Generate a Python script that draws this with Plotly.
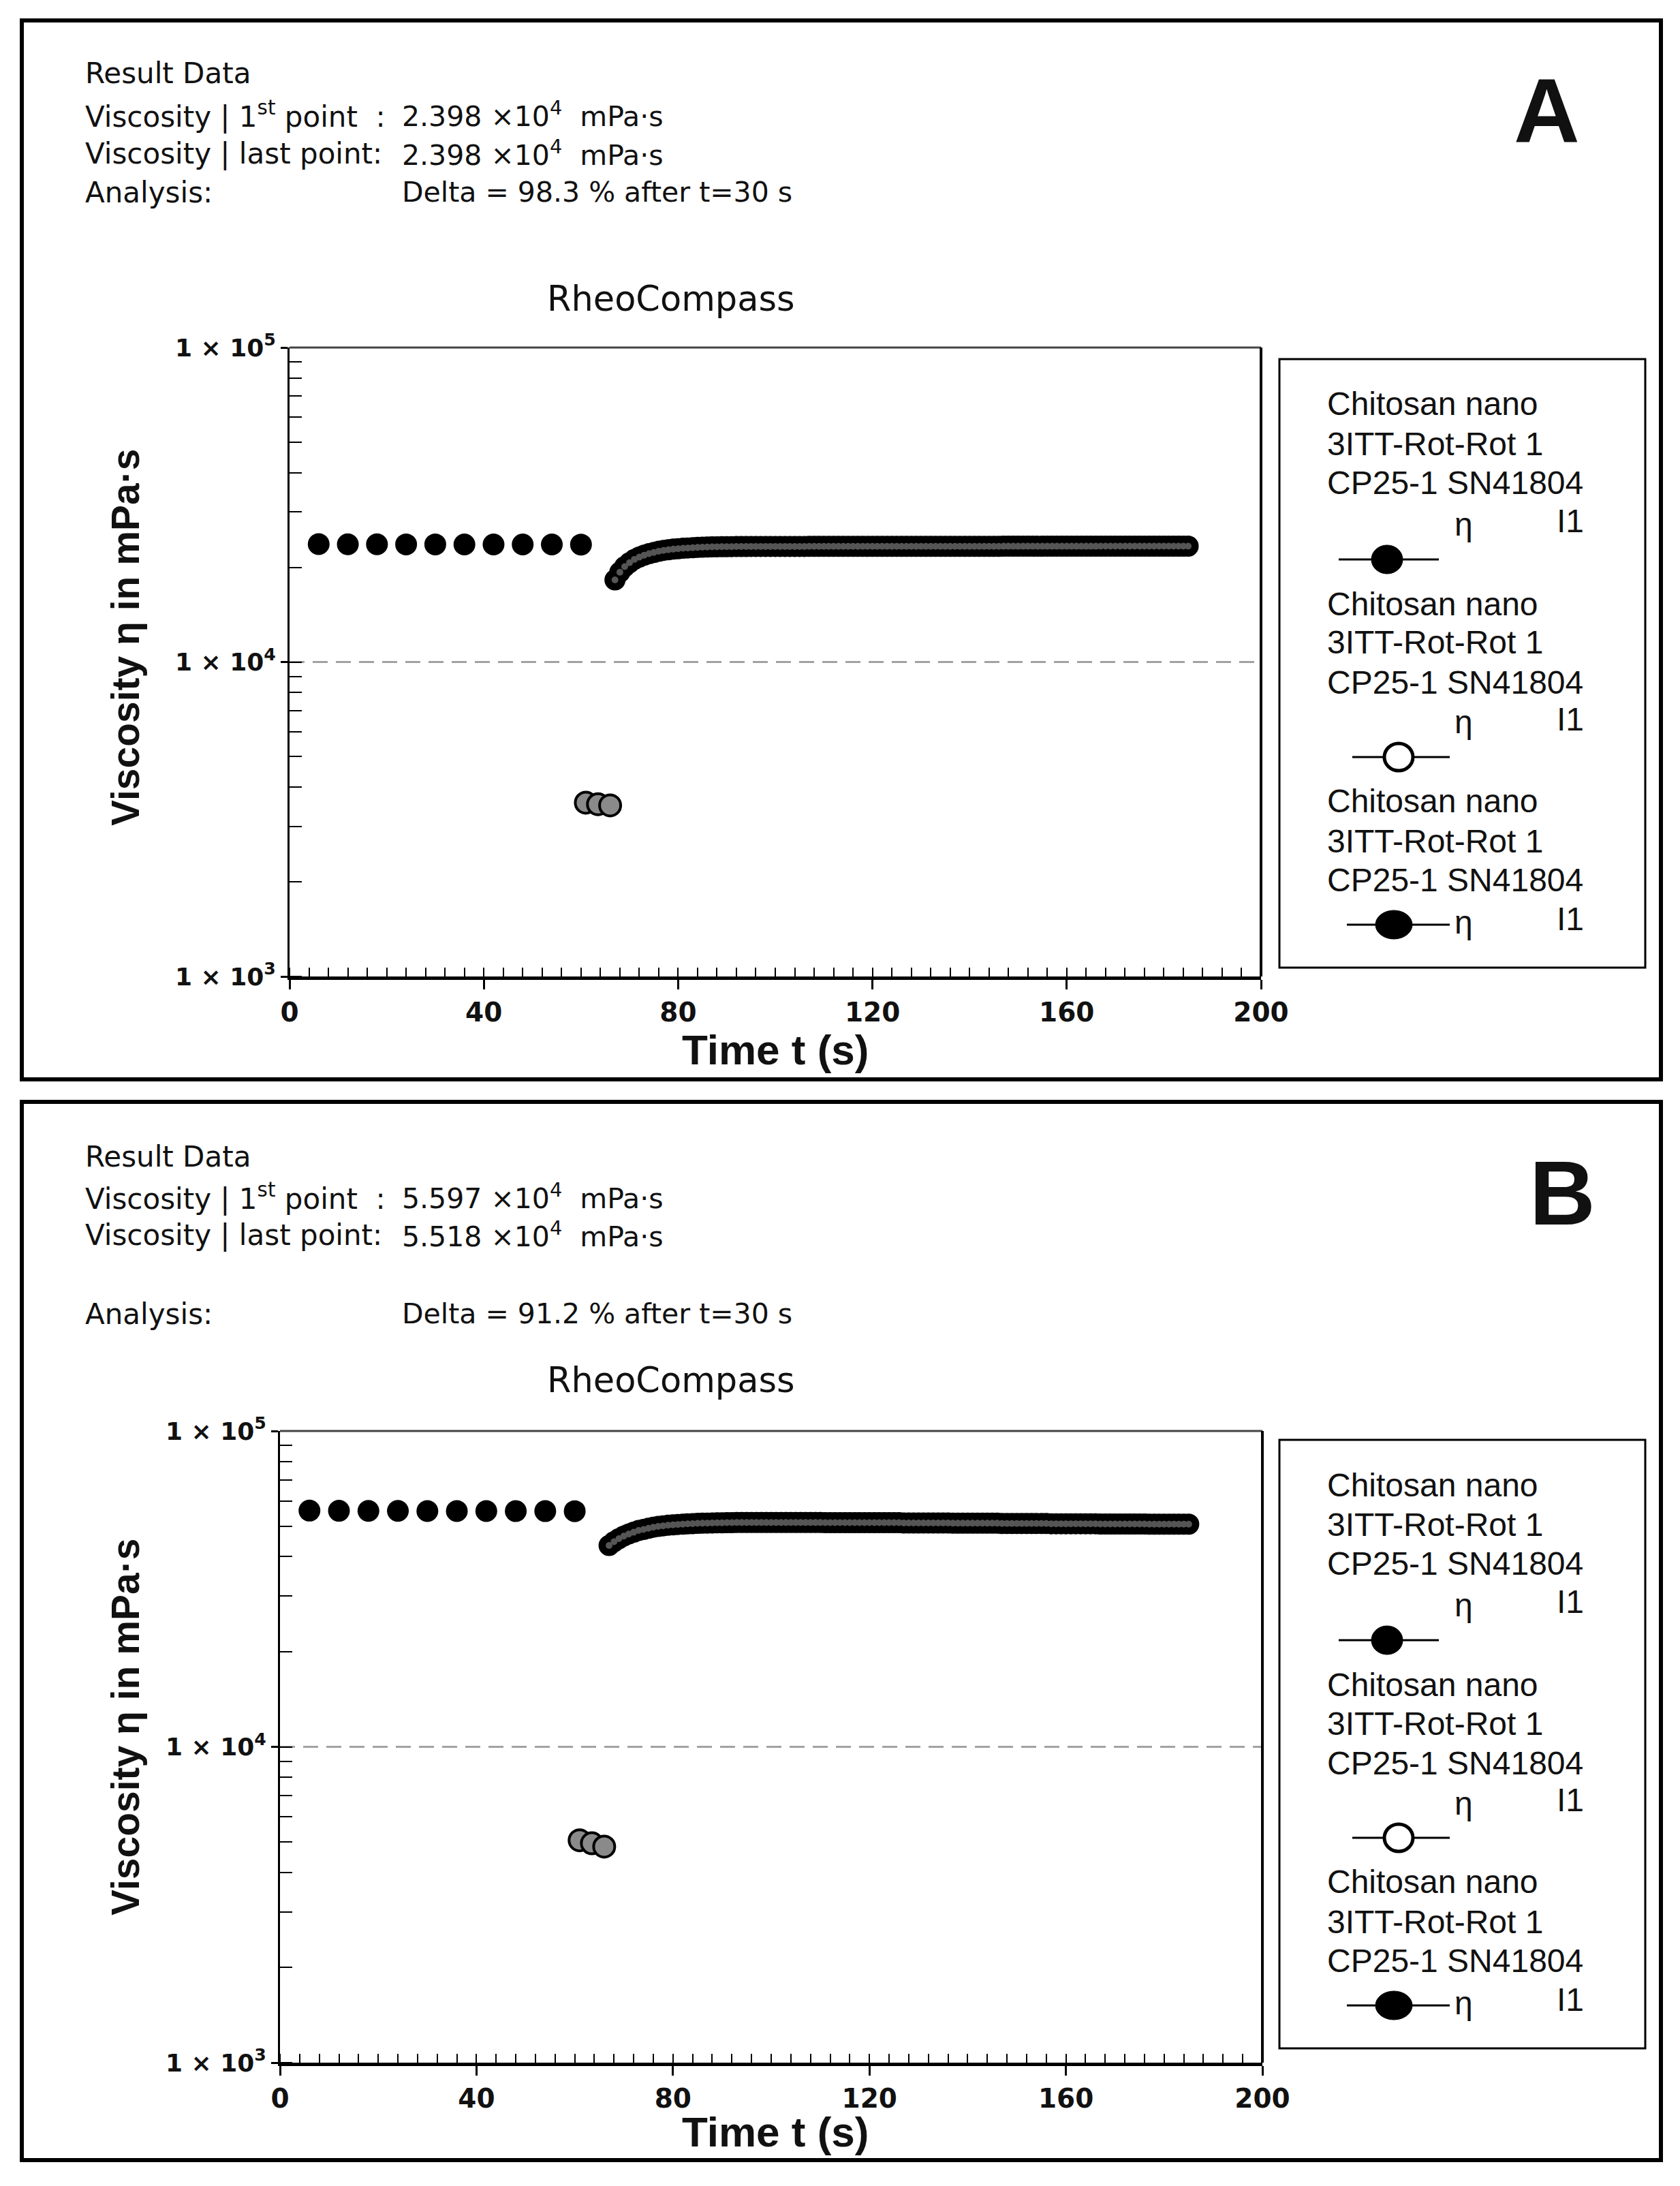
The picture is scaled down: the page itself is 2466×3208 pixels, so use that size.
import plotly.graph_objects as go

W, H = 2466, 3208
OFF = 8  # page offset of the figure in the photographed window


def px(x):
    return (x - OFF) / W


def py(y):
    return 1 - (y - OFF) / H


# ---------------- data ----------------
# Interval 1 (low shear) : filled black circles
t_int1 = [6, 12, 18, 24, 30, 36, 42, 48, 54, 60]
eta_int1_A = [23700, 23680, 23670, 23660, 23660, 23650, 23650, 23640, 23640, 23630]
eta_int1_B = [55970, 55900, 55850, 55850, 55800, 55800, 55780, 55760, 55750, 55740]

# Interval 2 (high shear) : grey circles
t_int2 = [61, 63.5, 66]
eta_int2_A = [3570, 3530, 3500]
eta_int2_B = [5060, 4950, 4830]

# Interval 3 (recovery) : dense dark circles
t_int3 = [67, 68, 69, 70, 71, 72, 73, 74, 75, 76,
          77, 78, 79, 80, 81, 82, 83, 84, 85, 86,
          87, 88, 89, 90, 91, 92, 93, 94, 95, 96,
          97, 98, 99, 100, 101, 102, 103, 104, 105, 106,
          107, 108, 109, 110, 111, 112, 113, 114, 115, 116,
          117, 118, 119, 120, 121, 122, 123, 124, 125, 126,
          127, 128, 129, 130, 131, 132, 133, 134, 135, 136,
          137, 138, 139, 140, 141, 142, 143, 144, 145, 146,
          147, 148, 149, 150, 151, 152, 153, 154, 155, 156,
          157, 158, 159, 160, 161, 162, 163, 164, 165, 166,
          167, 168, 169, 170, 171, 172, 173, 174, 175, 176,
          177, 178, 179, 180, 181, 182, 183, 184, 185]
eta_int3_A = [18250, 19300, 20100, 20700, 21200, 21550, 21850, 22100, 22300, 22500,
              22650, 22750, 22850, 22930, 23000, 23050, 23100, 23140, 23180, 23200,
              23230, 23250, 23260, 23270, 23280, 23290, 23300, 23300, 23310, 23310,
              23310, 23310, 23310, 23310, 23310, 23310, 23310, 23310, 23310, 23310,
              23320, 23320, 23320, 23320, 23320, 23320, 23320, 23320, 23320, 23320,
              23320, 23320, 23320, 23320, 23320, 23320, 23320, 23320, 23320, 23320,
              23330, 23330, 23330, 23330, 23330, 23330, 23330, 23330, 23330, 23330,
              23330, 23330, 23330, 23330, 23330, 23330, 23330, 23330, 23330, 23330,
              23340, 23340, 23340, 23340, 23340, 23340, 23340, 23340, 23340, 23340,
              23340, 23340, 23340, 23340, 23340, 23340, 23340, 23340, 23340, 23340,
              23350, 23350, 23350, 23350, 23350, 23350, 23350, 23350, 23350, 23350,
              23350, 23350, 23350, 23350, 23350, 23350, 23350, 23350, 23350]
eta_int3_B = [43400, 44600, 45600, 46500, 47200, 47800, 48400, 48800, 49200, 49600,
              49900, 50100, 50300, 50450, 50600, 50700, 50800, 50900, 51000, 51050,
              51100, 51150, 51200, 51220, 51250, 51270, 51300, 51300, 51300, 51300,
              51300, 51300, 51300, 51300, 51300, 51300, 51300, 51300, 51300, 51300,
              51300, 51300, 51300, 51300, 51250, 51250, 51250, 51250, 51250, 51250,
              51250, 51250, 51250, 51250, 51250, 51250, 51250, 51250, 51250, 51250,
              51150, 51150, 51150, 51150, 51150, 51150, 51150, 51150, 51150, 51150,
              51050, 51050, 51050, 51050, 51050, 51050, 51050, 51050, 51050, 51050,
              50950, 50950, 50950, 50950, 50950, 50950, 50950, 50950, 50950, 50950,
              50850, 50850, 50850, 50850, 50850, 50850, 50850, 50850, 50850, 50850,
              50750, 50750, 50750, 50750, 50750, 50750, 50750, 50750, 50750, 50750,
              50700, 50700, 50700, 50700, 50700, 50700, 50700, 50700, 50700]

x_tickvals = [0, 40, 80, 120, 160, 200]
y_tickvals = [1e3, 1e4, 1e5]
y_ticktext = ["1 × 10<sup>3</sup>", "1 × 10<sup>4</sup>", "1 × 10<sup>5</sup>"]

legend_lines = ["Chitosan nano", "3ITT-Rot-Rot 1", "CP25-1 SN41804"]

panels = {
    "A": dict(first="2.398", last="2.398", delta="98.3"),
    "B": dict(first="5.597", last="5.518", delta="91.2"),
}

# ---------------- figure ----------------
fig = go.Figure()

BLACK = "#111111"
SANS = "Liberation Sans, Arial, sans-serif"
DEJ = "DejaVu Sans, sans-serif"


def add_series(xa, ya, e1, e2, e3):
    # interval 1
    fig.add_trace(go.Scatter(x=t_int1, y=e1, xaxis=xa, yaxis=ya, mode="markers",
                             marker=dict(size=32, color="#000000", line=dict(width=0)),
                             showlegend=False, hoverinfo="skip"))
    # interval 2
    fig.add_trace(go.Scatter(x=t_int2, y=e2, xaxis=xa, yaxis=ya, mode="markers",
                             marker=dict(size=31, color="#8a8a8a", line=dict(width=4, color="#000000")),
                             showlegend=False, hoverinfo="skip"))
    # interval 3 : dark outer + grey core
    fig.add_trace(go.Scatter(x=t_int3, y=e3, xaxis=xa, yaxis=ya, mode="markers",
                             marker=dict(size=31, color="#000000", line=dict(width=0)),
                             showlegend=False, hoverinfo="skip"))
    fig.add_trace(go.Scatter(x=t_int3, y=e3, xaxis=xa, yaxis=ya, mode="markers",
                             marker=dict(size=10, color="#555555", line=dict(width=0)),
                             showlegend=False, hoverinfo="skip"))


add_series("x", "y", eta_int1_A, eta_int2_A, eta_int3_A)
add_series("x2", "y2", eta_int1_B, eta_int2_B, eta_int3_B)


def xaxis_cfg(l, r):
    return dict(domain=[px(l), px(r)], range=[0, 200], tickvals=x_tickvals, automargin=False,
                ticks="outside", ticklen=14, tickwidth=3, tickcolor="#000",
                showline=True, linewidth=5, linecolor="#000", showgrid=False, zeroline=False,
                tickfont=dict(family=DEJ, size=39, color=BLACK, weight="bold"),
                minor=dict(dtick=4, ticks="inside", ticklen=13, tickwidth=2, tickcolor="#000", showgrid=False),
                fixedrange=True)


def yaxis_cfg(top, bottom):
    return dict(type="log", domain=[py(bottom), py(top)], range=[3, 5], automargin=False,
                tickvals=y_tickvals, ticktext=y_ticktext,
                ticks="outside", ticklen=10, tickwidth=3, tickcolor="#000",
                showline=True, linewidth=3, linecolor="#000", zeroline=False,
                showgrid=True, gridcolor="#a2a2a2", gridwidth=3, griddash="22px,12px",
                tickfont=dict(family=DEJ, size=36, color=BLACK, weight="bold"),
                minor=dict(dtick="D1", ticks="inside", ticklen=18, tickwidth=2, tickcolor="#000", showgrid=False),
                fixedrange=True)


layout = dict(
    width=W, height=H, autosize=False, paper_bgcolor="white", plot_bgcolor="white",
    margin=dict(l=0, r=0, t=0, b=0, pad=0, autoexpand=False), showlegend=False,
    xaxis=dict(anchor="y", **xaxis_cfg(425, 1851)),
    yaxis=dict(anchor="x", **yaxis_cfg(510, 1433)),
    xaxis2=dict(anchor="y2", **xaxis_cfg(411, 1853)),
    yaxis2=dict(anchor="x2", **yaxis_cfg(2100, 3027)),
)
fig.update_layout(**layout)

shapes = []
annotations = []


def text(x, y, s, size, family=DEJ, xanchor="left", bold=False, angle=0):
    annotations.append(dict(x=px(x), y=py(y), xref="paper", yref="paper", text=s, showarrow=False,
                            xanchor=xanchor, yanchor="middle", textangle=angle, borderpad=0,
                            font=dict(family=family, size=size, color=BLACK,
                                      weight="bold" if bold else "normal")))


def panel(key, box_top, box_bottom, rows, rheo_y, label_xy, xa, ya, ytitle_y, xtitle_y, leg_dy):
    p = panels[key]
    # outer box
    shapes.append(dict(type="rect", xref="paper", yref="paper", x0=px(32), x1=px(2438),
                       y0=py(box_bottom), y1=py(box_top), line=dict(color="#000", width=6)))
    # result data block
    text(124, rows[0], "Result Data", 42)
    text(124, rows[1], "Viscosity | 1<sup>st</sup> point  :", 42)
    text(589, rows[1], p["first"] + " ×10<sup>4</sup>  mPa·s", 41)
    text(124, rows[2], "Viscosity | last point:", 42)
    text(589, rows[2], p["last"] + " ×10<sup>4</sup>  mPa·s", 41)
    text(124, rows[3], "Analysis:", 42)
    text(589, rows[3], "Delta = " + p["delta"] + " % after t=30 s", 41)
    # chart title
    text(985, rheo_y, "RheoCompass", 51, xanchor="center")
    # panel letter
    text(label_xy[0], label_xy[1], key, 134, family=SANS, xanchor="center", bold=True)
    # axis titles
    text(184, ytitle_y, "Viscosity η in mPa·s", 57, family=SANS, xanchor="center", bold=True, angle=-90)
    text(1138, xtitle_y, "Time t (s)", 62, family=SANS, xanchor="center", bold=True)
    # top (grey) and right frame lines of the plot area
    shapes.append(dict(type="line", xref=xa + " domain", yref=ya + " domain", x0=0, x1=1, y0=1, y1=1,
                       line=dict(color="#444", width=3)))
    shapes.append(dict(type="line", xref=xa + " domain", yref=ya + " domain", x0=1, x1=1, y0=0, y1=1,
                       line=dict(color="#000", width=4)))
    # legend box
    shapes.append(dict(type="rect", xref="paper", yref="paper", x0=px(1878), x1=px(2415),
                       y0=py(1420 + leg_dy), y1=py(527 + leg_dy), line=dict(color="#000", width=3)))
    groups = [
        dict(lines=[593, 651, 708], eta=769, sym=821, lx=(1965, 2112), cx=2036, cw=46, ch=42, fill="#000"),
        dict(lines=[886, 943, 1001], eta=1060, sym=1111, lx=(1985, 2128), cx=2053, cw=42, ch=40, fill="#fff"),
        dict(lines=[1175, 1234, 1291], eta=1353, sym=1357, lx=(1977, 2128), cx=2046, cw=54, ch=42, fill="#000"),
    ]
    for g in groups:
        for ln, yy in zip(legend_lines, g["lines"]):
            text(1947, yy + leg_dy, ln, 48, family=SANS)
        text(2148, g["eta"] + leg_dy, "η", 48, family=SANS, xanchor="center")
        text(2284, g["eta"] - 5 + leg_dy, "I1", 48, family=SANS)
        ys = g["sym"] + leg_dy
        shapes.append(dict(type="line", xref="paper", yref="paper", x0=px(g["lx"][0]), x1=px(g["lx"][1]),
                           y0=py(ys), y1=py(ys), line=dict(color="#000", width=3)))
        shapes.append(dict(type="circle", xref="paper", yref="paper",
                           x0=px(g["cx"] - g["cw"] / 2), x1=px(g["cx"] + g["cw"] / 2),
                           y0=py(ys + g["ch"] / 2), y1=py(ys - g["ch"] / 2),
                           fillcolor=g["fill"], line=dict(color="#000", width=5 if g["fill"] == "#fff" else 1)))


panel("A", 30, 1584, [107, 168, 225, 282], 438, (2270, 162), "x", "y", 936, 1541, 0)
panel("B", 1617, 3170, [1697, 1756, 1812, 1928], 2025, (2293, 1750), "x2", "y2", 2535, 3128, 1586)

fig.update_layout(shapes=shapes, annotations=annotations)
fig.write_html("out.html")
